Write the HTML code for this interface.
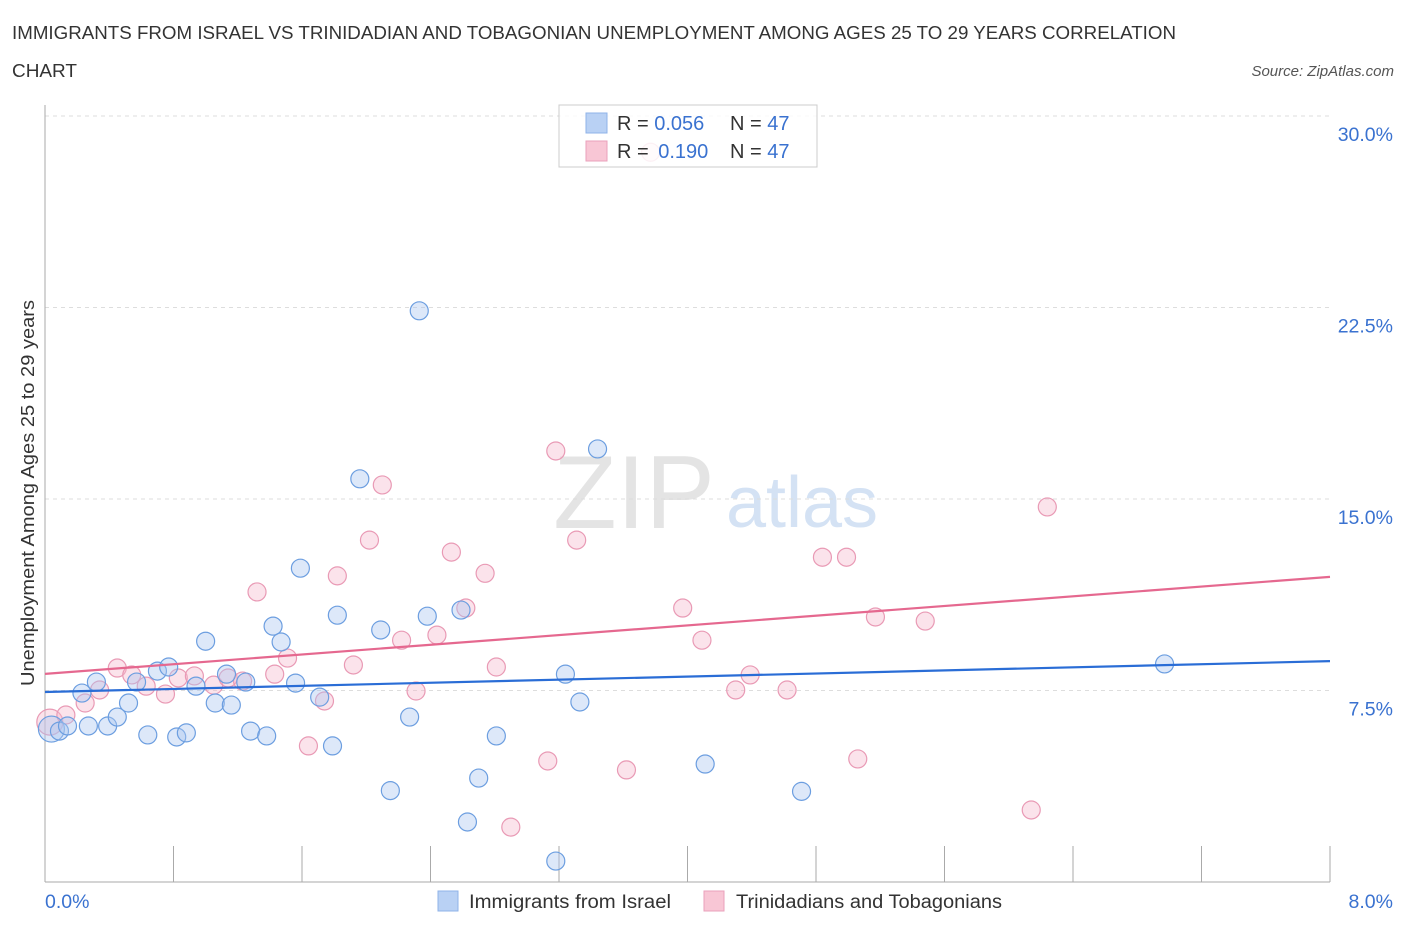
<!DOCTYPE html>
<html><head><meta charset="utf-8"><style>
body{margin:0;background:#fff;font-family:"Liberation Sans",sans-serif;}
svg text{font-family:"Liberation Sans",sans-serif;}
</style></head><body>
<svg id="chart" width="1406" height="930" xmlns="http://www.w3.org/2000/svg">
<text x="12" y="39" font-size="18" fill="#333" textLength="1164" lengthAdjust="spacingAndGlyphs">IMMIGRANTS FROM ISRAEL VS TRINIDADIAN AND TOBAGONIAN UNEMPLOYMENT AMONG AGES 25 TO 29 YEARS CORRELATION</text>
<text x="12" y="77" font-size="18" fill="#333" textLength="65" lengthAdjust="spacingAndGlyphs">CHART</text>
<text x="1394" y="76" font-size="15" fill="#555" text-anchor="end" font-style="italic">Source: ZipAtlas.com</text>
<g>
<text x="634" y="528" font-size="104" fill="#e4e4e4" text-anchor="middle" font-family="Liberation Serif">ZIP</text>
<text x="802" y="527" font-size="72" fill="#d4e2f4" text-anchor="middle">atlas</text>
</g>
<g id="grid"></g>
<g id="axes"></g>
<g id="points"></g>
<g id="trends"></g>
<text transform="translate(34,493) rotate(-90)" font-size="18" fill="#333" text-anchor="middle" textLength="386" lengthAdjust="spacingAndGlyphs">Unemployment Among Ages 25 to 29 years</text>
<g>
<rect x="559" y="105" width="258" height="62" fill="#fff" fill-opacity="0.85" stroke="#ccc"/>
<rect x="586" y="113" width="21" height="20" fill="#b9d1f4" stroke="#8fb3e8"/>
<rect x="586" y="141" width="21" height="20" fill="#f8c6d5" stroke="#eaa0bb"/>
<text x="617" y="130" font-size="20" fill="#333">R = <tspan fill="#3a72d0">0.056</tspan></text>
<text x="730" y="130" font-size="20" fill="#333">N = <tspan fill="#3a72d0">47</tspan></text>
<text x="617" y="158" font-size="20" fill="#333">R = <tspan fill="#3a72d0" dx="4">0.190</tspan></text>
<text x="730" y="158" font-size="20" fill="#333">N = <tspan fill="#3a72d0">47</tspan></text>
</g>
<g>
<rect x="438" y="891" width="20" height="20" fill="#b9d1f4" stroke="#8fb3e8"/>
<text x="469" y="908" font-size="19" fill="#333" textLength="202" lengthAdjust="spacingAndGlyphs">Immigrants from Israel</text>
<rect x="704" y="891" width="20" height="20" fill="#f8c6d5" stroke="#eaa0bb"/>
<text x="736" y="908" font-size="19" fill="#333" textLength="266" lengthAdjust="spacingAndGlyphs">Trinidadians and Tobagonians</text>
</g>
</svg>
<script>
const yTicks=[7.5,15,22.5,30];
const yTickLabels=["7.5%","15.0%","22.5%","30.0%"];
const xTicks=[0,0.8,1.6,2.4,3.2,4,4.8,5.6,6.4,7.2,8];
const blueX=[0.04,0.09,0.14,0.23,0.27,0.32,0.39,0.45,0.52,0.57,0.64,0.70,0.77,0.82,0.88,0.94,1.00,1.06,1.13,1.16,1.25,1.28,1.38,1.42,1.47,1.56,1.59,1.71,1.79,1.82,1.96,2.09,2.15,2.27,2.33,2.38,2.59,2.63,2.70,2.81,3.18,3.24,3.33,3.44,4.11,4.71,6.97];
const blueY=[5.99,5.91,6.11,7.40,6.11,7.83,6.11,6.46,7.01,7.83,5.76,8.26,8.42,5.68,5.84,7.67,9.43,7.01,8.14,6.93,7.83,5.91,5.72,10.02,9.40,7.79,12.29,7.24,5.33,10.45,15.79,9.87,3.58,6.46,22.37,10.41,10.65,2.35,4.07,5.72,0.82,8.14,7.05,16.96,4.62,3.55,8.54];
const pinkX=[0.03,0.13,0.25,0.34,0.45,0.54,0.63,0.75,0.83,0.93,1.05,1.14,1.23,1.32,1.43,1.51,1.64,1.74,1.82,1.92,2.02,2.10,2.22,2.31,2.44,2.53,2.62,2.74,2.81,2.90,3.13,3.18,3.31,3.62,3.97,4.09,4.30,4.39,4.62,4.84,4.99,5.06,5.17,5.48,6.14,6.24,3.77];
const pinkY=[6.26,6.54,7.01,7.52,8.38,8.11,7.67,7.36,7.99,8.07,7.71,7.99,7.87,11.36,8.14,8.77,5.33,7.09,11.99,8.50,13.39,15.55,9.47,7.48,9.67,12.92,10.73,12.09,8.42,2.15,4.74,16.88,13.39,4.39,10.73,9.47,7.52,8.11,7.52,12.72,12.72,4.82,10.38,10.22,2.82,14.69,28.58];
const blueTrend=[7.44,8.65];
const pinkTrend=[8.15,11.95];
const NS="http://www.w3.org/2000/svg";
const X0=45,X1=1330,Y0=882,YS=191.5/7.5;
const sx=v=>X0+(v/8)*(X1-X0);
const sy=v=>Y0-v*YS;
function mk(tag,attrs,parent){const e=document.createElementNS(NS,tag);for(const k in attrs)e.setAttribute(k,attrs[k]);document.getElementById(parent).appendChild(e);return e;}
yTicks.forEach((t,i)=>{
 const g=mk('line',{x1:X0,x2:X1,y1:sy(t),y2:sy(t),stroke:'#ddd','stroke-dasharray':'4,4'},'grid');
 
 
 const l=mk('text',{x:1393,y:sy(t)+25,'font-size':19.5,fill:'#3a72d0','text-anchor':'end'},'axes');
 l.textContent=yTickLabels[i];
 
 
});
const ax=mk('line',{x1:X0,x2:X0,y1:105,y2:Y0,stroke:'#aaa'},'axes');


const bx=mk('line',{x1:X0,x2:X1,y1:Y0,y2:Y0,stroke:'#aaa'},'axes');


xTicks.forEach(t=>{
 const tk=mk('line',{x1:sx(t),x2:sx(t),y1:846,y2:Y0,stroke:'#aaa'},'axes');
 
 
});
const xl0=mk('text',{x:45,y:908,'font-size':19.5,fill:'#3a72d0'},'axes');xl0.textContent='0.0%';


const xl1=mk('text',{x:1393,y:908,'font-size':19.5,fill:'#3a72d0','text-anchor':'end'},'axes');xl1.textContent='8.0%';


function pts(xs,ys,fill,stroke,name){xs.forEach((x,i)=>{
 const r=i===0?13:9;
 const c=mk('circle',{cx:sx(x),cy:sy(ys[i]),r:r,fill:fill,'fill-opacity':0.4,stroke:stroke,'stroke-width':1.2},'points');
 
 
});}
pts(pinkX,pinkY,'#f5b8cc','#e99ab5','trinidad-point');
pts(blueX,blueY,'#a9c6f0','#6c9ee0','israel-point');
const tb=mk('line',{x1:sx(0),y1:sy(blueTrend[0]),x2:sx(8),y2:sy(blueTrend[1]),stroke:'#2a6dd6','stroke-width':2.2},'trends');


const tp=mk('line',{x1:sx(0),y1:sy(pinkTrend[0]),x2:sx(8),y2:sy(pinkTrend[1]),stroke:'#e5688f','stroke-width':2.2},'trends');


</script>
</body></html>
